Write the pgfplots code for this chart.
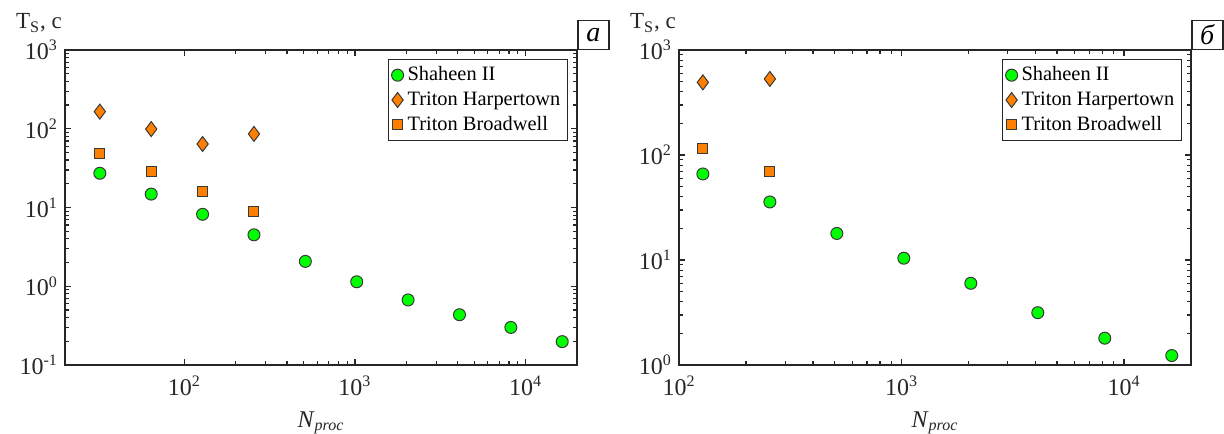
\documentclass[border=0pt]{standalone}
\usepackage{fontspec}
\setmainfont{Liberation Serif}
\usepackage{pgfplots}
\pgfplotsset{compat=1.18}
\definecolor{mGreen}{HTML}{00FF00}
\definecolor{mOrange}{HTML}{FF7F00}
\definecolor{mEdge}{HTML}{3A3A3A}
\definecolor{axGray}{HTML}{262626}

\pgfplotsset{
  log number format basis/.code 2 args={#1\textsuperscript{\pgfmathprintnumber[assume math mode=true]{#2}}},
}
\pgfplotsset{
  panel/.style={
    scale only axis, width=256pt, height=157.5pt,
    xmax=2e4, clip mode=individual,
    axis line style={axGray, line width=0.75pt},
    tick style={axGray, line width=0.6pt},
    major tick length=3pt, minor tick length=2pt,
    tick align=inside,
    ticklabel style={font=\fontsize{12}{13}\selectfont, text=axGray},
    xticklabel style={yshift=-2pt},
    xlabel={\textit{N}\textsubscript{\textit{proc}}},
    xlabel style={font=\fontsize{12}{13}\selectfont, text=axGray, yshift=-1pt},
    legend cell align=left,
    legend style={at={(1,1)}, anchor=north east, xshift=-4.5pt, yshift=-4.5pt,
      draw=axGray, line width=0.6pt, font=\fontsize{10.2}{11.5}\selectfont,
      inner sep=1.5pt},
  },
  sh/.style={only marks, mark=*, mark size=3pt,
    mark options={fill=mGreen, draw=mEdge, line width=0.5pt}},
  th/.style={only marks, mark=diamond*, mark size=3.75pt,
    mark options={fill=mOrange, draw=mEdge, line width=0.5pt}},
  tb/.style={only marks, mark=square*, mark size=2.5pt,
    mark options={fill=mOrange, draw=mEdge, line width=0.5pt}},
}
\tikzset{
  tag/.style={draw=axGray, line width=0.75pt, anchor=south west, inner sep=0pt,
    minimum width=15.5pt, minimum height=14.5pt, font=\fontsize{14}{14}\selectfont\itshape},
  ylab/.style={anchor=west, font=\fontsize{11.5}{12}\selectfont, text=axGray},
}

\begin{document}
\begin{tikzpicture}
\useasboundingbox (-32.5pt,-34pt) rectangle (579.5pt,182.5pt);

% (a)
\begin{loglogaxis}[panel, xmin=20, ymin=0.1, ymax=1000,
  xtick={100,1000,10000}, ytick={0.1,1,10,100,1000}]
\addplot[sh] coordinates {(32,27.2) (64,14.8) (128,8.2) (256,4.5) (512,2.07)
  (1024,1.14) (2048,0.67) (4096,0.435) (8192,0.30) (16384,0.198)};
\addlegendentry{Shaheen II}
\addplot[th] coordinates {(32,165) (64,99) (128,64) (256,86)};
\addlegendentry{Triton Harpertown}
\addplot[tb] coordinates {(32,48) (64,28.3) (128,15.9) (256,9.0)};
\addlegendentry{Triton Broadwell}
\node[tag] at (rel axis cs:1,1) {а};
\node[ylab] at (rel axis cs:0,1) [xshift=-28pt, yshift=13.5pt] {T\textsubscript{S}, с};
\end{loglogaxis}

% (б)
\begin{loglogaxis}[panel, at={(307pt,0pt)}, xmin=100, ymin=1, ymax=1000,
  xtick={100,1000,10000}, ytick={1,10,100,1000}]
\addplot[sh] coordinates {(128,66) (256,35.7) (512,17.9) (1024,10.4)
  (2048,6.0) (4096,3.15) (8192,1.8) (16384,1.23)};
\addlegendentry{Shaheen II}
\addplot[th] coordinates {(128,492) (256,530)};
\addlegendentry{Triton Harpertown}
\addplot[tb] coordinates {(128,116) (256,70)};
\addlegendentry{Triton Broadwell}
\node[tag] at (rel axis cs:1,1) {б};
\node[ylab] at (rel axis cs:0,1) [xshift=-28pt, yshift=13.5pt] {T\textsubscript{S}, с};
\end{loglogaxis}
\end{tikzpicture}
\end{document}
